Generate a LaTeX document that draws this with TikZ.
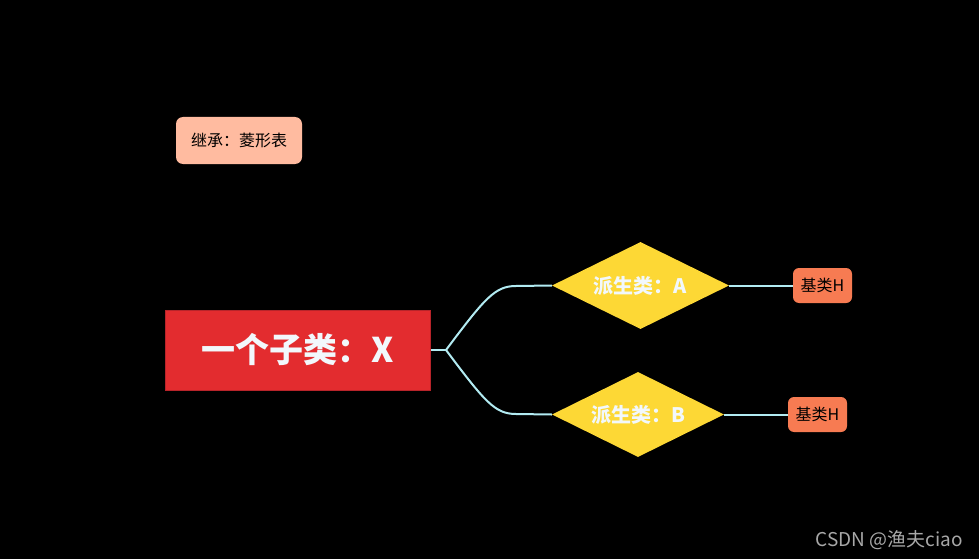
\documentclass[tikz,border=0pt]{standalone}
\usepackage{fontspec}
\setmainfont{Noto Sans CJK SC}
\newfontfamily\cjk{Noto Sans CJK SC}
\usetikzlibrary{shapes.geometric}
\definecolor{bgc}{HTML}{000000}
\definecolor{peach}{HTML}{FFBBA0}
\definecolor{mainred}{HTML}{E32C2F}
\definecolor{mainredb}{HTML}{B8242A}
\definecolor{dyellow}{HTML}{FDD835}
\definecolor{coral}{HTML}{F77B52}
\definecolor{linec}{HTML}{B2EBF2}
\definecolor{wtext}{HTML}{F2F8FC}
\definecolor{wm}{HTML}{A8A8A8}
\tikzset{
  conn/.style={draw=linec, line width=2pt},
  leafbox/.style={fill=coral, rounded corners=6pt, minimum width=59pt, minimum height=35pt, inner sep=0pt, font=\cjk\fontsize{16}{18}\selectfont, text=black},
  derived/.style={diamond, fill=dyellow, inner sep=0pt},
  dlabel/.style={text=wtext, inner sep=0pt, font=\cjk\bfseries\fontsize{20}{24}\selectfont},
}
\begin{document}
\begin{tikzpicture}[x=1pt,y=-1pt]
\fill[bgc] (0,0) rectangle (979,559);
\useasboundingbox (0,0) rectangle (979,559);

\node[fill=peach, rounded corners=7pt, minimum width=126pt, minimum height=47pt, inner sep=0pt,
  font=\cjk\fontsize{16}{18}\selectfont, text=black] (title) at (239,140.5) {继承：菱形表};

\node[fill=mainred, draw=mainredb, line width=1pt, minimum width=265pt, minimum height=80pt, inner sep=0pt,
  text=wtext, font=\cjk\bfseries\fontsize{34}{38}\selectfont] (X) at (297.5,350) {一个子类：X};

\node[derived, minimum width=177pt, minimum height=87pt] (A) at (640.5,285.5) {};
\node[dlabel] (Atext) at (A.center) {派生类：A};
\node[derived, minimum width=172pt, minimum height=85pt] (B) at (638,414.5) {};
\node[dlabel] (Btext) at (B.center) {派生类：B};

\node[leafbox] (HA) at (822.5,285.5) {基类H};
\node[leafbox] (HB) at (817.5,414.5) {基类H};

\coordinate (j) at (446,350);
\coordinate (ta) at (516,286);
\coordinate (tb) at (516,414);

\draw[conn] (X.east) -- (j);
\draw[conn] (j) .. controls (485,298) and (495,286) .. (ta) -- (A.west);
\draw[conn] (j) .. controls (485,402) and (495,414) .. (tb) -- (B.west);
\draw[conn] (A.east) -- (HA.west);
\draw[conn] (B.east) -- (HB.west);

\node[text=wm, font=\cjk\fontsize{19}{21}\selectfont, anchor=east, inner sep=0pt] (wmk) at (963,540) {CSDN @渔夫ciao};
\end{tikzpicture}
\end{document}
